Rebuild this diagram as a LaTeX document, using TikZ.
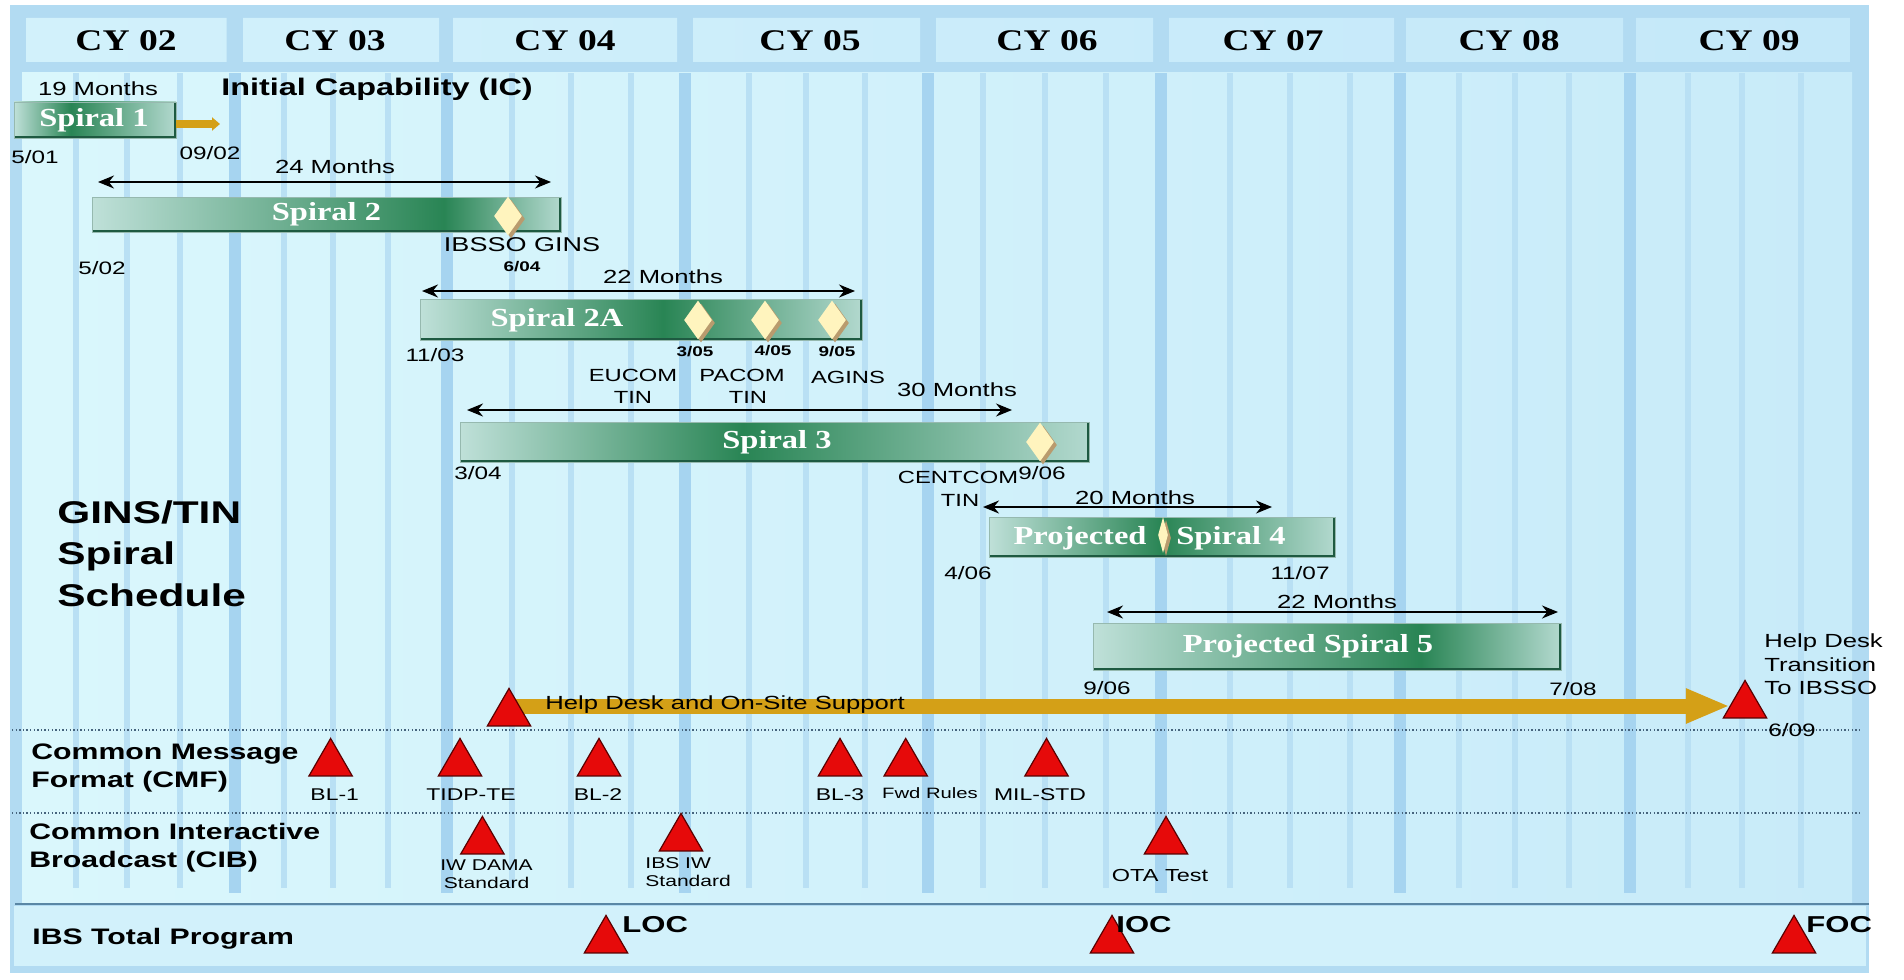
\documentclass[tikz,border=0pt]{standalone}
\usepackage{fontspec}
\setmainfont{Liberation Sans}[FakeStretch=1.35]
\newfontfamily\tnr{Liberation Serif}[FakeStretch=1.25]
\usetikzlibrary{shapes.geometric,arrows.meta,shadows}
\pgfdeclarelayer{bg}
\pgfdeclarelayer{conn}
\pgfsetlayers{bg,conn,main}
\newcommand\fsz[2]{\fontsize{#1}{#2}\selectfont}
\newcommand\mkbarshade[2]{\pgfdeclarehorizontalshading{#1}{100bp}{rgb(0bp)=(0.75,0.88,0.85); rgb(25bp)=(0.75,0.88,0.85); rgb(#2bp)=(0.16,0.52,0.33); rgb(75bp)=(0.70,0.85,0.81); rgb(100bp)=(0.70,0.85,0.81)}}
\mkbarshade{shOne}{42.5}
\mkbarshade{shTwo}{62.5}
\mkbarshade{shTwoA}{52.5}
\mkbarshade{shThree}{47.5}
\mkbarshade{shFour}{50}
\mkbarshade{shFive}{60}
\definecolor{panel}{RGB}{178,219,242}
\definecolor{hdrL}{RGB}{210,241,251}
\definecolor{hdrR}{RGB}{196,232,249}
\definecolor{bodyL}{RGB}{218,247,252}
\definecolor{bodyR}{RGB}{200,235,249}
\definecolor{stripethin}{RGB}{185,224,244}
\definecolor{stripewide}{RGB}{166,212,240}
\definecolor{botband}{RGB}{210,241,251}
\definecolor{sepcol}{RGB}{90,135,165}
\definecolor{dotcol}{RGB}{70,100,125}
\definecolor{gold}{RGB}{212,160,23}
\definecolor{trired}{RGB}{230,10,10}
\definecolor{triedge}{RGB}{90,0,0}
\definecolor{bardark}{RGB}{30,90,65}
\definecolor{barrim}{RGB}{150,185,175}
\definecolor{cream}{RGB}{255,244,190}
\definecolor{tanshadow}{RGB}{185,155,110}
\begin{document}
\begin{tikzpicture}[x=0.5pt,y=-0.5pt,
  lbl/.style={inner sep=0pt, font=\fsz{9.5}{11}},
  dat/.style={inner sep=0pt, font=\fsz{9}{10}},
  tinyb/.style={inner sep=0pt, font=\bfseries\fsz{7}{8}},
  spc/.style={inner sep=0pt, font=\fsz{8.8}{11}},
  mtxt/.style={inner sep=0pt, font=\fsz{8.5}{10}},
  ntxt/.style={inner sep=0pt, font=\fsz{7.8}{9}},
  rowlbl/.style={inner sep=0pt, anchor=west, align=left, font=\bfseries\fsz{11.2}{14}},
  bigo/.style={inner sep=0pt, anchor=west, font=\bfseries\fsz{11.5}{12}},
  cy/.style={inner sep=0pt, font=\tnr\bfseries\fsz{15}{16}},
  barlbl/.style={inner sep=0pt, text=white, font=\tnr\bfseries\fsz{13}{14}},
  spbar/.style={rectangle, inner sep=0pt, outer sep=0pt, shade, draw=barrim, line width=0.4pt, path picture={\draw[draw=bardark, line width=2pt] (path picture bounding box.south west) -- (path picture bounding box.south east) -- (path picture bounding box.north east);}},
  gem/.style={diamond, fill=cream, inner sep=0pt, minimum width=14pt, minimum height=19.5pt, drop shadow={shadow xshift=1.5pt, shadow yshift=-1.5pt, fill=tanshadow, opacity=1}},
  mstone/.style={regular polygon, regular polygon sides=3, minimum size=25pt, inner sep=0pt, fill=trired, draw=triedge, line width=0.6pt},
  dimarrow/.style={{Stealth[length=8pt,width=6.5pt]}-{Stealth[length=8pt,width=6.5pt]}, line width=0.9pt, draw=black},
  helparrow/.style={-{Triangle[length=22pt,width=16pt]}, line width=7.5pt, draw=gold},
  smallarrow/.style={-{Triangle[length=4pt,width=6.5pt]}, line width=4pt, draw=gold},
  dotline/.style={draw=dotcol, line width=0.7pt, dash pattern=on 0.7pt off 1.1pt},
]
\useasboundingbox (0,0) rectangle (1904,979);
\begin{pgfonlayer}{bg}
\fill[white] (0,0) rectangle (1904,979);
\fill[panel] (10,5) rectangle (1869,973);
\shade[left color=hdrL, right color=hdrR] (26.5,18) rectangle (226.5,62) (243,18) rectangle (439,62) (453,18) rectangle (677,62) (693,18) rectangle (920,62) (936,18) rectangle (1153,62) (1169,18) rectangle (1394,62) (1406,18) rectangle (1623,62) (1636,18) rectangle (1850,62);
\shade[left color=bodyL, right color=bodyR] (22,73) rectangle (1852,902);
\fill[botband] (14,906) rectangle (1866,966);
\foreach \x in {75.5,126.5,179.6,283.7,332.7,387.8,512,571,630.6,748.6,805.7,865,983,1044.5,1105.7,1230,1289.6,1350,1458.5,1514.8,1569,1688,1742,1800.5}
  \fill[stripethin] ({\x-3},73) rectangle ({\x+3},888);
\foreach \x in {234.7,447,684.5,928,1160.8,1400,1629.5}
  \fill[stripewide] ({\x-6},73) rectangle ({\x+6},893);
\draw[draw=sepcol, line width=1pt] (15,904) -- (1869,904);
\draw[dotline] (12,730) -- (1862,730);
\draw[dotline] (12,813) -- (1862,813);
\end{pgfonlayer}

% header
\node[cy] (cy02) at (126,41) {CY 02};
\node[cy] (cy03) at (335,41) {CY 03};
\node[cy] (cy04) at (565,41) {CY 04};
\node[cy] (cy05) at (810,41) {CY 05};
\node[cy] (cy06) at (1047,41) {CY 06};
\node[cy] (cy07) at (1273,41) {CY 07};
\node[cy] (cy08) at (1509,41) {CY 08};
\node[cy] (cy09) at (1749,41) {CY 09};

% Spiral 1
\node[lbl] (m19) at (98,89) {19 Months};
\node[inner sep=0pt, font=\bfseries\fsz{12}{13}] (ic) at (377,89) {Initial Capability (IC)};
\node[spbar, shading=shOne, minimum width=81pt, minimum height=18pt] (sp1) at (95,120) {};
\node[barlbl] (sp1t) at (94,120) {Spiral 1};
\coordinate (s1end) at (220,124);
\draw[smallarrow] (sp1.east |- s1end) -- (s1end);
\node[dat] (d501) at (35,157) {5/01};
\node[dat] (d902) at (210,153) {09/02};

% Spiral 2
\node[lbl] (m24) at (335,167) {24 Months};
\coordinate (a2l) at (98,182);
\coordinate (a2r) at (551,182);
\draw[dimarrow] (a2l) -- (a2r);
\node[spbar, shading=shTwo, minimum width=234.5pt, minimum height=17.5pt] (sp2) at (326.5,214.5) {};
\node[barlbl] (sp2t) at (326.5,214) {Spiral 2};
\node[gem] (g1) at (508,216) {};
\node[spc, font=\fsz{10}{11}] (ibsso) at (522,245) {IBSSO GINS};
\node[tinyb] (d604) at (522,267) {6/04};
\node[dat] (d502) at (102,268) {5/02};

% Spiral 2A
\node[lbl] (m22a) at (663,277) {22 Months};
\coordinate (a2Al) at (422,291);
\coordinate (a2Ar) at (855,291);
\draw[dimarrow] (a2Al) -- (a2Ar);
\node[spbar, shading=shTwoA, minimum width=221pt, minimum height=20.5pt] (sp2a) at (641,319.5) {};
\node[barlbl] (sp2at) at (557,320) {Spiral 2A};
\node[gem] (g2) at (698,320) {};
\node[gem] (g3) at (765,320) {};
\node[gem] (g4) at (832,320) {};
\node[tinyb] (d305) at (695,352) {3/05};
\node[tinyb] (d405) at (773,351) {4/05};
\node[tinyb] (d905) at (837,352) {9/05};
\node[dat] (d1103) at (435,355) {11/03};
\node[spc] (eucom) at (633,375) {EUCOM};
\node[spc] (eucomt) at (633,397) {TIN};
\node[spc] (pacom) at (742,375) {PACOM};
\node[spc] (pacomt) at (748,397) {TIN};
\node[spc] (agins) at (848,377) {AGINS};

% Spiral 3
\node[lbl] (m30) at (957,390) {30 Months};
\coordinate (a3l) at (467,410);
\coordinate (a3r) at (1012,410);
\draw[dimarrow] (a3l) -- (a3r);
\node[spbar, shading=shThree, minimum width=314.5pt, minimum height=20pt] (sp3) at (774.5,442) {};
\node[barlbl] (sp3t) at (777,442) {Spiral 3};
\node[gem] (g5) at (1040,442) {};
\node[dat] (d304) at (478,473) {3/04};
\node[spc] (centcom) at (958,477) {CENTCOM};
\node[dat] (d906a) at (1042,473) {9/06};
\node[spc] (centcomt) at (960,500) {TIN};

% Spiral 4
\node[lbl] (m20) at (1135,498) {20 Months};
\coordinate (a4l) at (983,507);
\coordinate (a4r) at (1272,507);
\draw[dimarrow] (a4l) -- (a4r);
\node[spbar, shading=shFour, minimum width=173pt, minimum height=20pt] (sp4) at (1162,537) {};
\node[barlbl] (sp4a) at (1080,538) {Projected};
\node[barlbl] (sp4b) at (1231,538) {Spiral 4};
\node[gem, minimum width=5pt, minimum height=18pt] (g6) at (1163,535) {};
\node[dat] (d406) at (968,573) {4/06};
\node[dat] (d1107) at (1300,573) {11/07};

% Spiral 5
\node[lbl] (m22b) at (1337,602) {22 Months};
\coordinate (a5l) at (1107,612);
\coordinate (a5r) at (1558,612);
\draw[dimarrow] (a5l) -- (a5r);
\node[spbar, shading=shFive, minimum width=234pt, minimum height=23.5pt] (sp5) at (1327,646.5) {};
\node[barlbl] (sp5t) at (1308,646) {Projected Spiral 5};
\node[dat] (d906b) at (1107,688) {9/06};
\node[dat] (d708) at (1573,689) {7/08};

% title
\node[inner sep=0pt, anchor=west, align=left, font=\bfseries\fsz{15.7}{20.75}] (title) at (57,553.5) {GINS/TIN\\Spiral\\Schedule};

% help desk
\node[mstone] (hd1) at (509,713.4) {};
\node[mstone] (hd2) at (1745,705.4) {};
\coordinate (hdy) at (0,706);
\begin{pgfonlayer}{conn}
\draw[helparrow] (hd1.center |- hdy) -- (hd2.west |- hdy);
\end{pgfonlayer}
\node[mtxt, font=\fsz{9.5}{11}, anchor=west] (hdtxt) at (545,705) {Help Desk and On-Site Support};
\node[inner sep=0pt, anchor=west, align=left, font=\fsz{9.5}{11.75}] (trans) at (1764,664.5) {Help Desk\\Transition\\To IBSSO};
\node[dat] (d609) at (1792,730) {6/09};

% CMF row
\node[rowlbl] (cmf) at (31,768) {Common Message\\Format (CMF)};
\node[mstone] (bl1) at (330.6,763.4) {};
\node[mstone] (tidp) at (460,763.4) {};
\node[mstone] (bl2) at (599,763.4) {};
\node[mstone] (bl3) at (840,763.4) {};
\node[mstone] (fwd) at (905.7,763.4) {};
\node[mstone] (mil) at (1046.5,763.4) {};
\node[mtxt] (bl1t) at (334.7,795) {BL-1};
\node[mtxt] (tidpt) at (471,795) {TIDP-TE};
\node[mtxt] (bl2t) at (598,795) {BL-2};
\node[mtxt] (bl3t) at (840,795) {BL-3};
\node[ntxt, font=\fsz{7.5}{9}] (fwdt) at (930,793) {Fwd Rules};
\node[mtxt] (milt) at (1040,795) {MIL-STD};

% CIB row
\node[rowlbl] (cib) at (29,848) {Common Interactive\\Broadcast (CIB)};
\node[mstone] (iwd) at (482.4,841.4) {};
\node[mstone] (ibsiw) at (681,838.4) {};
\node[mstone] (ota) at (1166,841.4) {};
\node[ntxt, align=center] (iwdt) at (486.5,874) {IW DAMA\\Standard};
\node[ntxt, align=left, anchor=west] (ibsiwt) at (645,872) {IBS IW\\Standard};
\node[mtxt, font=\fsz{8.7}{10}] (otat) at (1160,875) {OTA Test};

% IBS row
\node[rowlbl] (ibs) at (32,939) {IBS Total Program};
\node[mstone] (loc) at (606,940.4) {};
\node[mstone] (ioc) at (1112,940.4) {};
\node[mstone] (foc) at (1794,940.4) {};
\node[bigo] (loct) at (622,925) {LOC};
\node[bigo] (ioct) at (1116,925) {IOC};
\node[bigo] (foct) at (1806,925) {FOC};
\end{tikzpicture}
\end{document}
